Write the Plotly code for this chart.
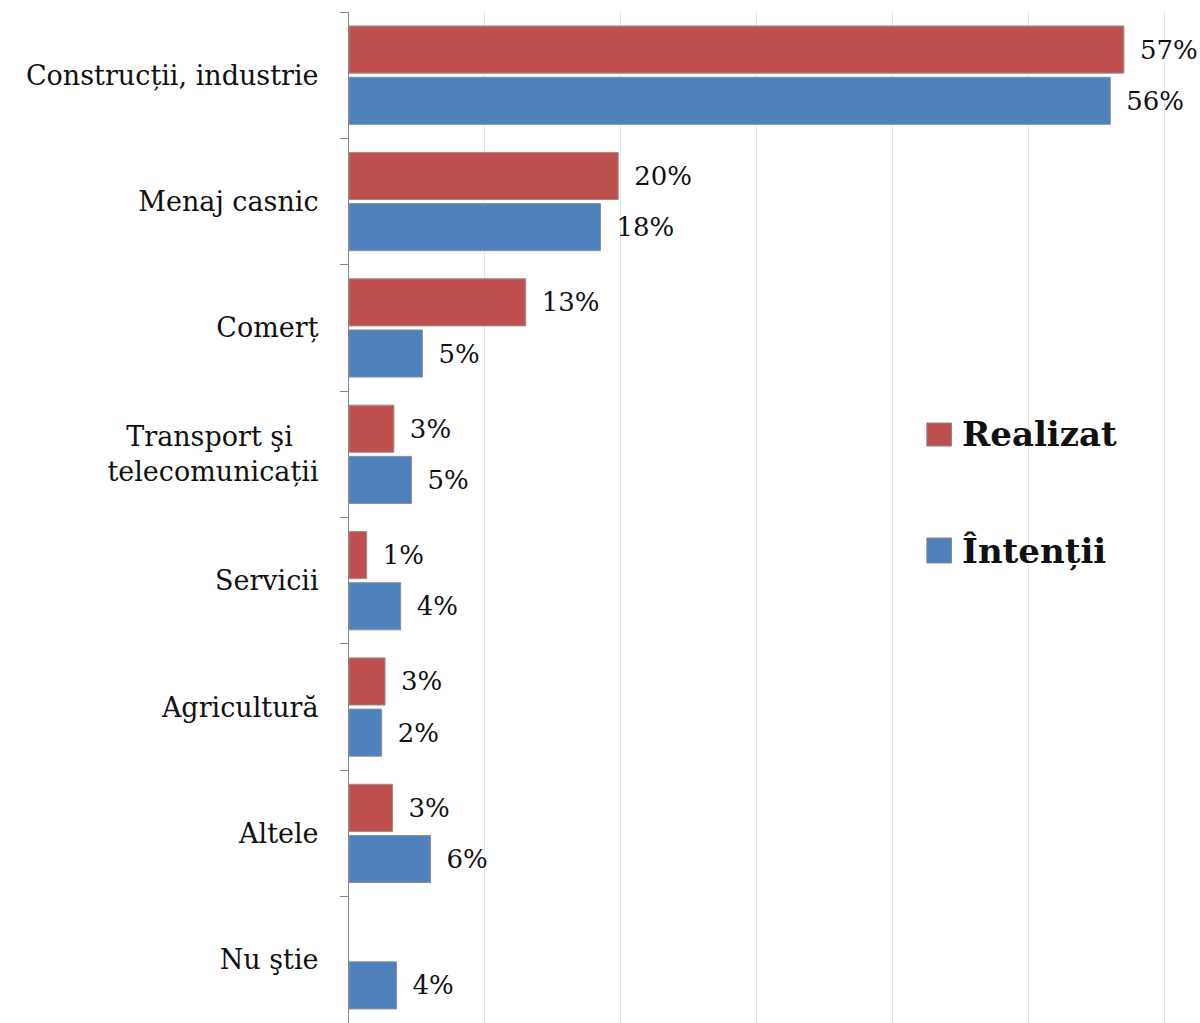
import plotly.graph_objects as go

# categories, top to bottom
categories = [
    "Construcții, industrie",
    "Menaj casnic",
    "Comerț",
    "Transport şi\u00a0\u00a0\u00a0<br>telecomunicații",
    "Servicii",
    "Agricultură",
    "Altele",
    "Nu ştie",
]

# bar lengths (%) as drawn, and the rounded labels shown next to them
realizat = [57.0, 19.8, 13.0, 3.3, 1.3, 2.65, 3.2, None]
intentii = [56.0, 18.5, 5.4, 4.6, 3.8, 2.4, 6.0, 3.5]
realizat_labels = ["57%", "20%", "13%", "3%", "1%", "3%", "3%", ""]
intentii_labels = ["56%", "18%", "5%", "5%", "4%", "2%", "6%", "4%"]

series_names = ["Realizat", "Întenții"]
RED = "#C0504D"
BLUE = "#4F81BD"
FONT = "DejaVu Serif"

fig = go.Figure()

fig.add_trace(go.Bar(
    y=categories, x=realizat, orientation="h", name=series_names[0],
    marker=dict(color=RED, line=dict(color="#9A8A8A", width=1)),
    text=realizat_labels, texttemplate="\u2002%{text}", textposition="outside",
    textfont=dict(family=FONT, size=26, color="#111111"),
    cliponaxis=False,
))

fig.add_trace(go.Bar(
    y=categories, x=intentii, orientation="h", name=series_names[1],
    marker=dict(color=BLUE, line=dict(color="#8A8F9A", width=1)),
    text=intentii_labels, texttemplate="\u2002%{text}", textposition="outside",
    textfont=dict(family=FONT, size=26, color="#111111"),
    cliponaxis=False,
))

# hand-made legend (big squares, bold labels) like the original
legend_items = [(series_names[0], RED, 0.5935, 0.5707), (series_names[1], BLUE, 0.4797, 0.4550)]
for name, color, y_top, y_bot in legend_items:
    fig.add_shape(type="rect", xref="paper", yref="paper",
                  x0=0.679, x1=0.708, y0=y_bot, y1=y_top,
                  fillcolor=color, line=dict(color="#8A8A8A", width=1))
    fig.add_annotation(xref="paper", yref="paper", x=0.718, y=(y_top + y_bot) / 2,
                       text="<b>%s</b>" % name, showarrow=False,
                       xanchor="left", yanchor="middle",
                       font=dict(family=FONT, size=34, color="#111111"))

fig.update_layout(
    barmode="group",
    bargap=0.19,
    bargroupgap=0.08,
    showlegend=False,
    width=1200,
    height=1023,
    plot_bgcolor="white",
    paper_bgcolor="white",
    margin=dict(l=349, r=0, t=12, b=0, autoexpand=False),
    font=dict(family=FONT, size=27, color="#111111"),
    xaxis=dict(
        range=[0, 62.6],
        dtick=10,
        showgrid=True,
        gridcolor="#E6E6E6",
        gridwidth=1,
        showticklabels=False,
        zeroline=False,
        showline=False,
        fixedrange=True,
        automargin=False,
    ),
    yaxis=dict(
        autorange="reversed",
        automargin=False,
        showline=True,
        linecolor="#868686",
        linewidth=1,
        ticks="outside",
        tickson="boundaries",
        ticklen=8,
        tickcolor="#868686",
        ticklabelstandoff=24,
        tickfont=dict(family=FONT, size=27, color="#111111"),
        showgrid=False,
    ),
)

# the page's default body margin would shift the chart by 8px
fig.write_html("out.html", config={"displayModeBar": False},
               post_script="document.body.style.margin='0';")
